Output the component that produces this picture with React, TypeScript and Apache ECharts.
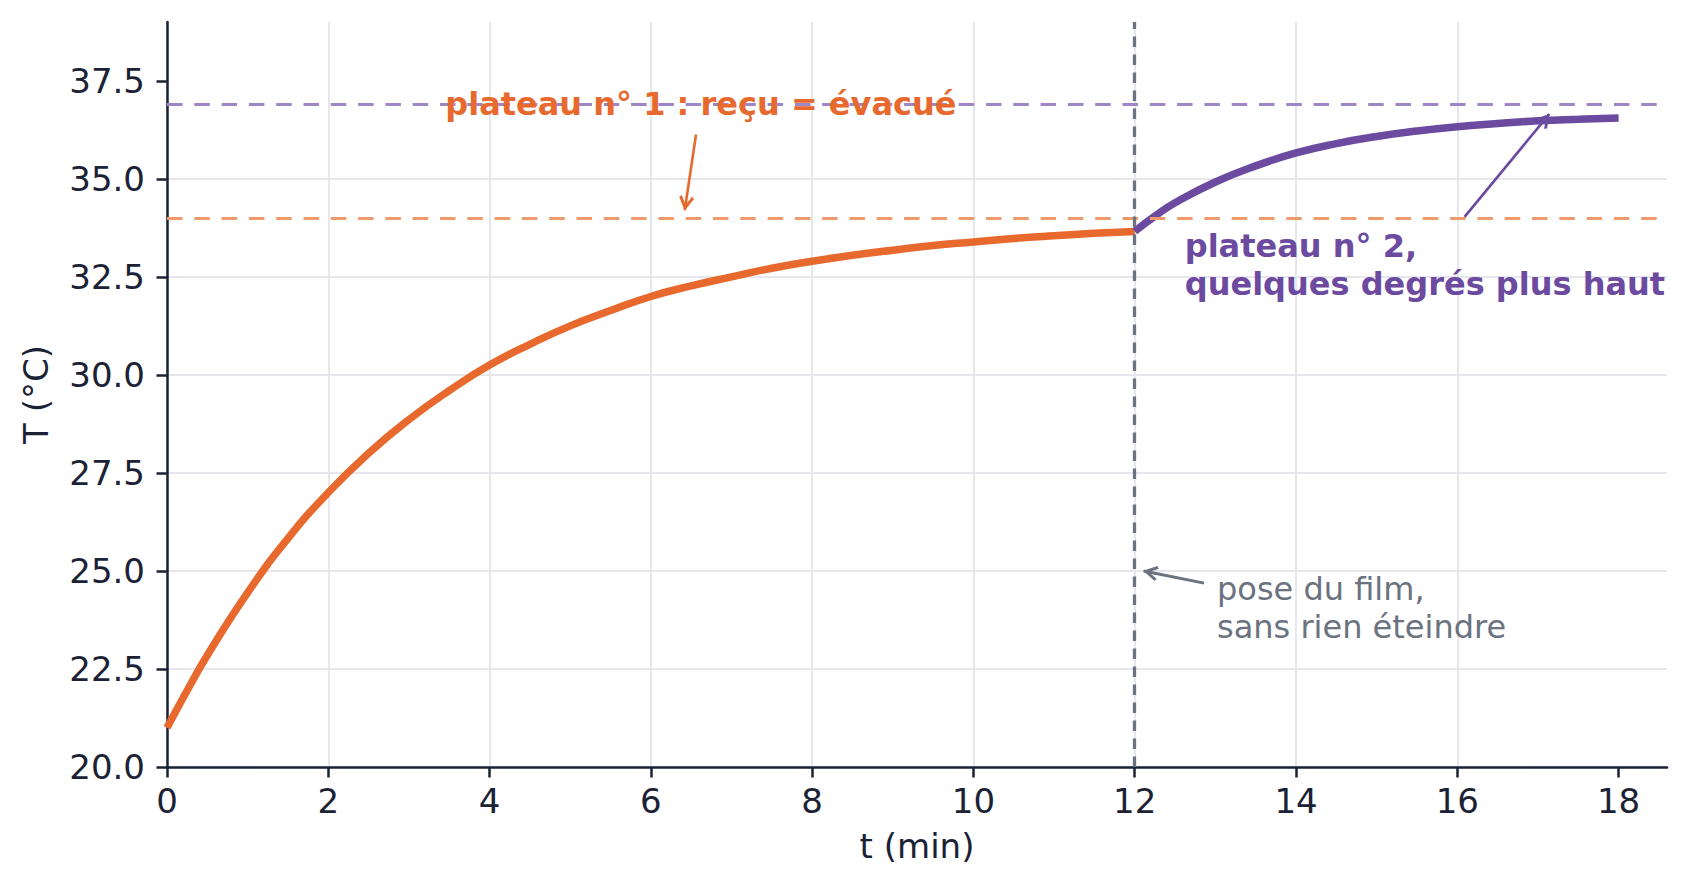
import { useEffect, useRef } from "react";
import * as echarts from "echarts";

// Première phase : chauffage jusqu'au plateau n° 1
const heatTimes = [0, 0.25, 0.5, 1, 1.5, 2, 2.5, 3, 3.5, 4, 4.5, 5, 5.5, 6, 6.5, 7, 7.5, 8, 8.5, 9, 9.5, 10, 10.5, 11, 11.5, 12];
const heatTemps = [21.0, 21.95, 22.85, 24.45, 25.83, 27.0, 28.0, 28.86, 29.6, 30.25, 30.78, 31.25, 31.64, 32.0, 32.27, 32.5, 32.72, 32.9, 33.05, 33.18, 33.3, 33.39, 33.48, 33.55, 33.61, 33.66];

// Seconde phase : après la pose du film
const filmTimes = [12, 12.25, 12.5, 13, 13.5, 14, 14.5, 15, 15.5, 16, 16.5, 17, 17.5, 18];
const filmTemps = [33.66, 34.05, 34.39, 34.92, 35.33, 35.66, 35.9, 36.08, 36.22, 36.33, 36.41, 36.48, 36.52, 36.55];

const xTicks = [0, 2, 4, 6, 8, 10, 12, 14, 16, 18];
const yTicks = [20, 22.5, 25, 27.5, 30, 32.5, 35, 37.5];

const plateau1 = 34.0;
const plateau2 = 36.9;
const filmTime = 12;

// annotations (coordonnées données)
const arrow1 = [[6.56, 36.13], [6.42, 34.2]];
const arrow2 = [[16.09, 34.03], [17.14, 36.65]];
const arrow3 = [[12.86, 24.69], [12.11, 25.0]];
const note1Pos = [6.62, 36.9];
const note2Pos = [12.62, 33.78];
const note3Pos = [13.02, 25.02];

const ORANGE = "#E8692D";
const PURPLE = "#6B4AA0";
const GREY = "#6B7280";
const INK = "#1B2235";
const GRID = "#E6E6EC";
const FONT = "DejaVu Sans";

const CHEVRON = "path://M5,0 L10,8.6 L8.5,9.9 L5,3.9 L1.5,9.9 L0,8.6 Z";

const arrowItem = (pts: number[][], color: string, width: number) => [
  { coord: pts[0], symbol: "none", lineStyle: { color, width, type: "solid" } },
  { coord: pts[1], symbol: CHEVRON, symbolSize: [15, 15] },
];

const App = () => {
  const chartRef = useRef<HTMLDivElement>(null);

  useEffect(() => {
    if (!chartRef.current) return;
    const chart = echarts.init(chartRef.current, null, { renderer: "svg" });
    chart.setOption({
      animation: false,
      textStyle: { fontFamily: FONT },
      grid: { left: 167, right: 22, top: 22, bottom: 123 },
      xAxis: {
        type: "value",
        min: 0,
        max: 18.6,
        interval: 2,
        name: "t (min)",
        nameLocation: "middle",
        nameGap: 62,
        nameTextStyle: { fontSize: 34, color: INK, fontFamily: FONT },
        axisLine: { show: true, onZero: false, lineStyle: { color: INK, width: 2.5 } },
        axisTick: { show: true, length: 10.5, customValues: xTicks, lineStyle: { color: INK, width: 2.5 } },
        axisLabel: { customValues: xTicks, fontSize: 34, color: INK, margin: 17, fontFamily: FONT },
        splitLine: { show: true, showMaxLine: false, lineStyle: { color: GRID, width: 2 } },
      },
      yAxis: {
        type: "value",
        min: 20,
        max: 39,
        interval: 2.5,
        name: "T (°C)",
        nameLocation: "middle",
        nameGap: 114,
        nameTextStyle: { fontSize: 34, color: INK, fontFamily: FONT },
        axisLine: { show: true, onZero: false, lineStyle: { color: INK, width: 2.5 } },
        axisTick: { show: true, length: 10.5, customValues: yTicks, lineStyle: { color: INK, width: 2.5 } },
        axisLabel: {
          customValues: yTicks,
          fontSize: 34,
          color: INK,
          margin: 22,
          fontFamily: FONT,
          formatter: (v: number) => v.toFixed(1),
        },
        splitLine: { show: true, showMaxLine: false, lineStyle: { color: GRID, width: 2 } },
      },
      series: [
        {
          type: "line",
          data: [],
          z: 1,
          markLine: {
            silent: true,
            symbol: ["none", "none"],
            label: { show: false },
            data: [
              { yAxis: plateau1, lineStyle: { color: "#EF9A6B", width: 3, type: [15.5, 11.8] } },
              { yAxis: plateau2, lineStyle: { color: "#9D86C6", width: 3, type: [15.5, 11.8] } },
            ],
          },
        },
        {
          type: "line",
          data: heatTimes.map((t, i) => [t, heatTemps[i]]),
          z: 3,
          smooth: 0.5,
          showSymbol: false,
          lineStyle: { color: ORANGE, width: 7.5, join: "round" },
        },
        {
          type: "line",
          data: filmTimes.map((t, i) => [t, filmTemps[i]]),
          z: 4,
          smooth: 0.5,
          showSymbol: false,
          lineStyle: { color: PURPLE, width: 7.5, join: "round" },
        },
        {
          type: "line",
          data: [],
          z: 5,
          markLine: {
            silent: true,
            symbol: ["none", "none"],
            symbolOffset: [[0, 0], [0, 7]],
            label: { show: false },
            emphasis: { disabled: true },
            data: [
              { xAxis: filmTime, lineStyle: { color: GREY, width: 3.3, type: [10.5, 7.5] } },
              arrowItem(arrow1, ORANGE, 2.6),
              arrowItem(arrow2, PURPLE, 2.6),
              arrowItem(arrow3, GREY, 3),
            ],
          },
        },
      ],
    });

    const toPx = (p: number[]) => chart.convertToPixel({ gridIndex: 0 }, p) as number[];
    const [x1, y1] = toPx(note1Pos);
    const [x2, y2] = toPx(note2Pos);
    const [x3, y3] = toPx(note3Pos);

    chart.setOption({
      graphic: [
        {
          type: "text",
          x: x1,
          y: y1,
          z: 10,
          style: {
            text: "plateau n° 1 : reçu = évacué",
            fill: ORANGE,
            fontSize: 32,
            fontWeight: "bold",
            fontFamily: FONT,
            align: "center",
            verticalAlign: "middle",
          },
        },
        {
          type: "text",
          x: x2,
          y: y2,
          z: 10,
          style: {
            text: "plateau n° 2,\nquelques degrés plus haut",
            fill: PURPLE,
            fontSize: 32,
            fontWeight: "bold",
            fontFamily: FONT,
            lineHeight: 38,
            align: "left",
            verticalAlign: "top",
          },
        },
        {
          type: "text",
          x: x3,
          y: y3,
          z: 10,
          style: {
            text: "pose du film,\nsans rien éteindre",
            fill: GREY,
            fontSize: 32,
            fontFamily: FONT,
            lineHeight: 38,
            align: "left",
            verticalAlign: "top",
          },
        },
      ],
    });

    return () => {
      chart.dispose();
    };
  }, []);

  return (
    <div
      ref={chartRef}
      style={{ position: "absolute", left: 0, top: 0, width: "1689px", height: "890px" }}
    ></div>
  );
};

export default App;
